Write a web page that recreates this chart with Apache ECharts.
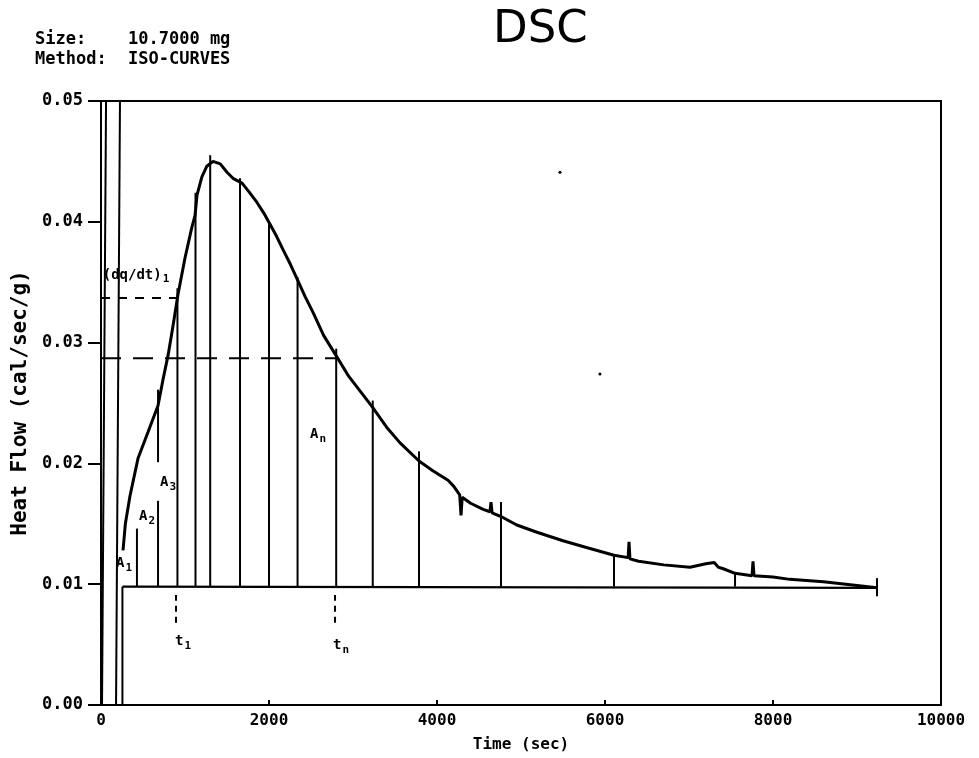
<!DOCTYPE html>
<html>
<head>
<meta charset="utf-8">
<script src="https://cdn.jsdelivr.net/npm/echarts@6/dist/echarts.min.js"></script>
<style>html,body{margin:0;padding:0;background:#fff}#c{width:979px;height:758px}</style>
</head>
<body>
<div id="c"></div>
<script>
// ---- data ----
const xTicks = [0, 2000, 4000, 6000, 8000, 10000];
const yTicks = [0.00, 0.01, 0.02, 0.03, 0.04, 0.05];

// main heat-flow curve (time in s, heat flow in cal/sec/g)
const curveT = [262, 290, 345, 440, 560, 679, 740, 800, 860, 917, 1000, 1080, 1119, 1143, 1200, 1260, 1333, 1420, 1500, 1571, 1679, 1760, 1857, 1940, 2012, 2090, 2167, 2260, 2345, 2430, 2524, 2650, 2810, 2950, 3083, 3238, 3400, 3560, 3786, 3950, 4131, 4200, 4270, 4286, 4300, 4400, 4550, 4630, 4643, 4656, 4762, 4950, 5190, 5500, 5800, 6107, 6275, 6286, 6297, 6400, 6700, 7012, 7200, 7300, 7350, 7400, 7548, 7750, 7762, 7774, 8000, 8200, 8600, 9000, 9238];
const curveY = [0.0128, 0.0150, 0.0173, 0.0204, 0.0226, 0.0248, 0.0270, 0.0290, 0.0315, 0.0340, 0.0370, 0.0395, 0.0405, 0.0422, 0.0437, 0.0446, 0.0450, 0.0448, 0.0441, 0.0436, 0.0432, 0.0425, 0.0416, 0.0407, 0.0398, 0.0388, 0.0377, 0.0364, 0.0351, 0.0338, 0.0325, 0.0306, 0.0288, 0.0272, 0.0260, 0.0246, 0.0230, 0.0217, 0.0202, 0.0194, 0.0186, 0.0181, 0.0174, 0.0157, 0.0172, 0.0167, 0.0162, 0.0160, 0.0168, 0.0159, 0.0156, 0.0149, 0.0143, 0.0136, 0.0130, 0.0124, 0.0122, 0.0135, 0.0121, 0.0119, 0.0116, 0.0114, 0.0117, 0.0118, 0.0114, 0.0113, 0.0109, 0.0107, 0.0119, 0.0107, 0.0106, 0.0104, 0.0102, 0.0099, 0.0097];

// baseline
const baseT = [255, 9238];
const baseY = [0.0098, 0.0097];

// partial-area boundaries (time, top of the drawn line)
const boundT   = [428, 679, 910, 1125, 1300, 1655, 2000, 2340, 2800, 3235, 3786, 4762, 6107, 7548];
const boundTop = [0.0146, 0.0169, 0.0345, 0.0424, 0.0455, 0.0436, 0.0400, 0.0354, 0.0295, 0.0252, 0.0210, 0.0168, 0.0125, 0.0110];
// extra upper piece of the A3 boundary and the end mark
const extraSegT = [679, 9238];
const extraSegLo = [0.0201, 0.0090];
const extraSegHi = [0.0261, 0.0105];

// initial off-scale trace lines [t at 0, t at 0.05]
const spikeBottomT = [12, 179];
const spikeTopT = [60, 226];
const jumpT = 255; // step from 0 up to baseline

// dashed construction lines
const dqdtLevel = 0.0337, dqdtEndT = 893;
const tnLevel = 0.0287, tnEndT = 2810;
const markT = [893, 2786];
const markLo = 0.0068, markHi = 0.0091;

// annotation labels
const annText = ['(dq/dt)|1', 'A|1', 'A|2', 'A|3', 'A|n', 't|1', 't|n'];
const annT = [417, 274, 548, 798, 2583, 976, 2857];
const annY = [0.0356, 0.01172, 0.0156, 0.0184, 0.0224, 0.00528, 0.00495];

// stray specks on the reference
const speckT = [5464, 5940];
const speckY = [0.0441, 0.0274];

// ---- build ----
const MONO = '"DejaVu Sans Mono", monospace';
const segs = [];
boundT.forEach((t, i) => segs.push([t, baseY[0], t, boundTop[i]]));
extraSegT.forEach((t, i) => segs.push([t, extraSegLo[i], t, extraSegHi[i]]));
spikeBottomT.forEach((t, i) => segs.push([t, 0, spikeTopT[i], 0.05]));
segs.push([jumpT, 0, jumpT, baseY[0]]);

const dashSegs = [
  [0, dqdtLevel, dqdtEndT, dqdtLevel, 'a'],
  [0, tnLevel, tnEndT, tnLevel, 'b'],
  [markT[0], markLo, markT[0], markHi, 'c'],
  [markT[1], markLo, markT[1], markHi, 'c']
];
const dashStyle = {a: [9, 8], b: [20, 12], c: [6, 5]};

function segRender(width, dashed) {
  return function (params, api) {
    const p0 = api.coord([api.value(0), api.value(1)]);
    const p1 = api.coord([api.value(2), api.value(3)]);
    const d = dashed ? dashStyle[dashSegs[params.dataIndex][4]] : null;
    return {
      type: 'line',
      shape: {x1: p0[0], y1: p0[1], x2: p1[0], y2: p1[1]},
      style: {stroke: '#000', lineWidth: width, lineDash: d}
    };
  };
}

const chart = echarts.init(document.getElementById('c'), null, {renderer: 'canvas'});
chart.setOption({
  animation: false,
  backgroundColor: '#fff',
  title: {
    text: 'DSC', left: 488, top: 3,
    textStyle: {fontFamily: '"DejaVu Sans", sans-serif', fontWeight: 'normal', fontSize: 45, color: '#000'}
  },
  graphic: [
    {type: 'text', left: 35, top: 31, style: {text: 'Size:', font: 'bold 17px ' + MONO, fill: '#000'}},
    {type: 'text', left: 128, top: 31, style: {text: '10.7000 mg', font: 'bold 17px ' + MONO, fill: '#000'}},
    {type: 'text', left: 35, top: 51, style: {text: 'Method:', font: 'bold 17px ' + MONO, fill: '#000'}},
    {type: 'text', left: 128, top: 51, style: {text: 'ISO-CURVES', font: 'bold 17px ' + MONO, fill: '#000'}}
  ],
  grid: {left: 101, right: 38, top: 101, bottom: 51, show: true, borderColor: '#000', borderWidth: 2, backgroundColor: 'transparent'},
  xAxis: {
    type: 'value', min: xTicks[0], max: xTicks[xTicks.length - 1], interval: xTicks[1] - xTicks[0],
    name: 'Time (sec)', nameLocation: 'middle', nameGap: 32,
    nameTextStyle: {fontFamily: MONO, fontWeight: 'bold', fontSize: 16, color: '#000'},
    axisLine: {lineStyle: {color: '#000', width: 2}},
    axisTick: {inside: true, length: 5, lineStyle: {color: '#000', width: 2}},
    axisLabel: {fontFamily: MONO, fontWeight: 'bold', fontSize: 16, color: '#000', margin: 8,
      formatter: v => String(v)},
    splitLine: {show: false}
  },
  yAxis: {
    type: 'value', min: yTicks[0], max: yTicks[yTicks.length - 1], interval: yTicks[1] - yTicks[0],
    name: 'Heat Flow (cal/sec/g)', nameLocation: 'middle', nameGap: 70, nameRotate: 90,
    nameTextStyle: {fontFamily: MONO, fontWeight: 'bold', fontSize: 21, color: '#000'},
    axisLine: {lineStyle: {color: '#000', width: 2}},
    axisTick: {length: 13, lineStyle: {color: '#000', width: 2}},
    axisLabel: {fontFamily: MONO, fontWeight: 'bold', fontSize: 17, color: '#000', margin: 18,
      formatter: v => v.toFixed(2)},
    splitLine: {show: false}
  },
  series: [
    {
      type: 'line', data: curveT.map((t, i) => [t, curveY[i]]), showSymbol: false,
      lineStyle: {color: '#000', width: 3}, z: 5
    },
    {
      type: 'line', data: baseT.map((t, i) => [t, baseY[i]]), showSymbol: false,
      lineStyle: {color: '#000', width: 2.2}, z: 4
    },
    {
      type: 'custom', renderItem: segRender(2, false), data: segs,
      encode: {x: [0, 2], y: [1, 3]}, z: 4
    },
    {
      type: 'custom', renderItem: segRender(2, true), data: dashSegs.map(s => s.slice(0, 4)),
      encode: {x: [0, 2], y: [1, 3]}, z: 4
    },
    {
      type: 'scatter', symbolSize: 0, z: 6,
      itemStyle: {opacity: 1, color: '#000'},
      data: annT.map((t, i) => ({value: [t, annY[i]], txt: annText[i]})),
      label: {
        show: true, position: 'inside', color: '#000', opacity: 1, textBorderWidth: 0,
        formatter: p => {
          const parts = p.data.txt.split('|');
          return '{m|' + parts[0] + '}{s|' + parts[1] + '}';
        },
        rich: {
          m: {fontFamily: MONO, fontWeight: 'bold', fontSize: 14, color: '#000', lineHeight: 18, textBorderWidth: 0},
          s: {fontFamily: MONO, fontWeight: 'bold', fontSize: 11, color: '#000', padding: [9, 0, 0, 1], lineHeight: 18, textBorderWidth: 0}
        }
      },
      emphasis: {disabled: true}
    },
    {
      type: 'scatter', symbolSize: 3, itemStyle: {color: '#000', opacity: 1},
      data: speckT.map((t, i) => [t, speckY[i]])
    }
  ]
});
</script>
</body>
</html>
